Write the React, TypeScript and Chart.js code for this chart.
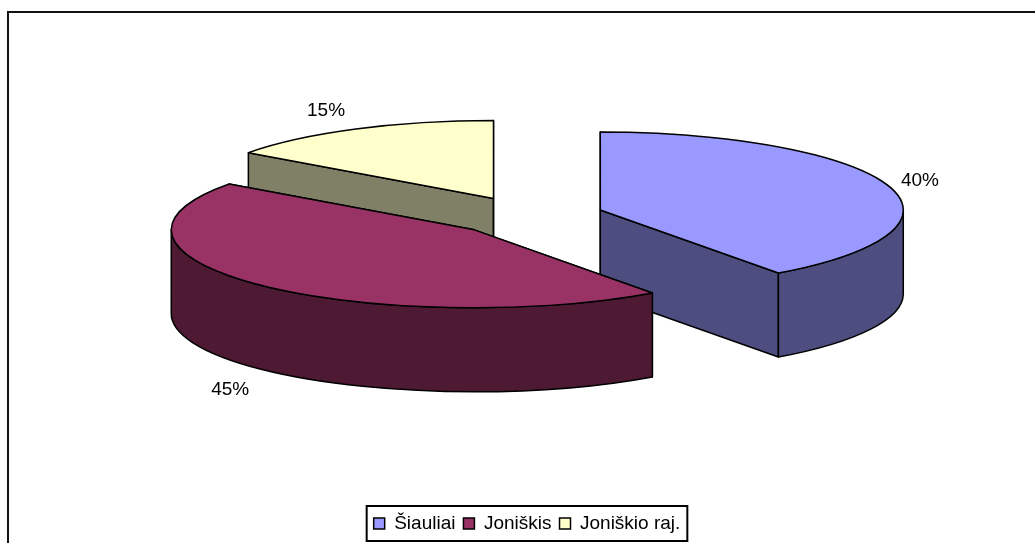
import React, { useEffect, useRef } from "react";
import { Chart, registerables } from "chart.js";

Chart.register(...registerables);

const CATEGORIES = ["Šiauliai", "Joniškis", "Joniškio raj."];
const VALUES = [40, 45, 15];
const TOP_COLORS = ["#9999FF", "#993366", "#FFFFCC"];
const SIDE_COLORS = ["#4D4D80", "#4D1933", "#808066"];
const LABEL_NUDGES = [[-6, 1], [-2, 6], [-12, 0]];

const FONT = "'Liberation Sans', Arial, sans-serif";
const FONT_SIZE = 19;
const RADIUS = 303;
const TILT = 0.2574;
const DEPTH = 84;
const EXPLODE = 76;
const CENTER_Y = 216;
const CENTER_X = 528;

const pie3d = {
  id: "pie3d",
  beforeDraw(chart: any) {
    const { ctx, width, height } = chart;
    ctx.save();
    ctx.strokeStyle = "#111";
    ctx.lineWidth = 2;
    ctx.beginPath();
    ctx.moveTo(8, height);
    ctx.lineTo(8, 12);
    ctx.lineTo(width, 12);
    ctx.stroke();
    ctx.restore();
  },
  beforeDatasetDraw(chart: any, args: any) {
    const { ctx } = chart;
    const arcs: any[] = args.meta.data;
    const total = VALUES.reduce((a, b) => a + b, 0);
    const ry = RADIUS * TILT;
    const parts = arcs.map((arc, i) => {
      const mid = (arc.startAngle + arc.endAngle) / 2;
      return {
        arc,
        i,
        mid,
        x: CENTER_X + Math.cos(mid) * EXPLODE,
        y: CENTER_Y + Math.sin(mid) * EXPLODE * TILT,
      };
    });
    const ordered = [...parts].sort((a, b) => a.y - b.y);
    ctx.save();
    ctx.lineJoin = "round";
    ctx.lineWidth = 1.5;
    ctx.strokeStyle = "#000";
    for (const p of ordered) {
      const { arc, i, x, y } = p;
      const start = arc.startAngle;
      const end = arc.endAngle;
      ctx.fillStyle = SIDE_COLORS[i];
      // radial walls
      for (const a of [start, end]) {
        const ex = x + Math.cos(a) * RADIUS;
        const ey = y + Math.sin(a) * ry;
        ctx.beginPath();
        ctx.moveTo(x, y);
        ctx.lineTo(ex, ey);
        ctx.lineTo(ex, ey + DEPTH);
        ctx.lineTo(x, y + DEPTH);
        ctx.closePath();
        ctx.fill();
        ctx.stroke();
      }
      // rim
      const a0 = Math.max(start, 0);
      const a1 = Math.min(end, Math.PI);
      if (a1 > a0) {
        ctx.beginPath();
        ctx.ellipse(x, y, RADIUS, ry, 0, a0, a1);
        ctx.ellipse(x, y + DEPTH, RADIUS, ry, 0, a1, a0, true);
        ctx.closePath();
        ctx.fill();
        ctx.stroke();
      }
      // top face: the library's own arc, squashed
      ctx.save();
      ctx.translate(x, y);
      ctx.scale(1, TILT);
      ctx.translate(-arc.x, -arc.y);
      arc.draw(ctx);
      ctx.restore();
      ctx.beginPath();
      ctx.moveTo(x, y);
      ctx.ellipse(x, y, RADIUS, ry, 0, start, end);
      ctx.closePath();
      ctx.stroke();
    }
    // percentage labels
    ctx.fillStyle = "#000";
    ctx.font = `${FONT_SIZE}px ${FONT}`;
    ctx.textAlign = "center";
    ctx.textBaseline = "middle";
    for (const p of parts) {
      const s = Math.sin(p.mid);
      const lx = p.x + Math.cos(p.mid) * RADIUS * 1.13 + LABEL_NUDGES[p.i][0];
      const ly = p.y + s * ry * 1.27 + (s > 0 ? DEPTH : 0) + LABEL_NUDGES[p.i][1];
      ctx.fillText(`${Math.round((VALUES[p.i] / total) * 100)}%`, lx, ly);
    }
    ctx.restore();
    return false;
  },
  afterDraw(chart: any) {
    const legend = chart.legend;
    const boxes = legend?.legendHitBoxes;
    if (!boxes || !boxes.length) return;
    const { ctx } = chart;
    const last = boxes[boxes.length - 1];
    const l = boxes[0].left - 7;
    const r = last.left + last.width + 7;
    ctx.save();
    ctx.strokeStyle = "#000";
    ctx.lineWidth = 2;
    ctx.strokeRect(l, legend.top, r - l, legend.bottom - legend.top - 2);
    ctx.restore();
  },
};

export default function App() {
  const ref = useRef<HTMLCanvasElement>(null);
  useEffect(() => {
    document.body.style.margin = "0";
    document.body.style.background = "#fff";
    const chart = new Chart(ref.current as any, {
      type: "pie",
      data: {
        labels: CATEGORIES,
        datasets: [
          {
            data: VALUES,
            backgroundColor: TOP_COLORS,
            borderWidth: 0,
            radius: RADIUS,
          } as any,
        ],
      },
      options: {
        responsive: false,
        animation: false,
        layout: { padding: { left: 19, right: 0, top: 0, bottom: 0 } },
        events: [],
        plugins: {
          tooltip: { enabled: false },
          legend: {
            position: "bottom",
            labels: {
              font: { family: FONT, size: FONT_SIZE },
              color: "#000",
              boxWidth: 11,
              boxHeight: 11,
              padding: 8,
              generateLabels(c: any) {
                return (Chart as any).overrides.doughnut.plugins.legend.labels
                  .generateLabels(c)
                  .map((l: any) => ({ ...l, strokeStyle: "#000", lineWidth: 1.5 }));
              },
            },
          },
        },
      },
      plugins: [pie3d],
    } as any);
    return () => chart.destroy();
  }, []);
  return <canvas ref={ref} width={1035} height={543} style={{ display: "block" }} />;
}
